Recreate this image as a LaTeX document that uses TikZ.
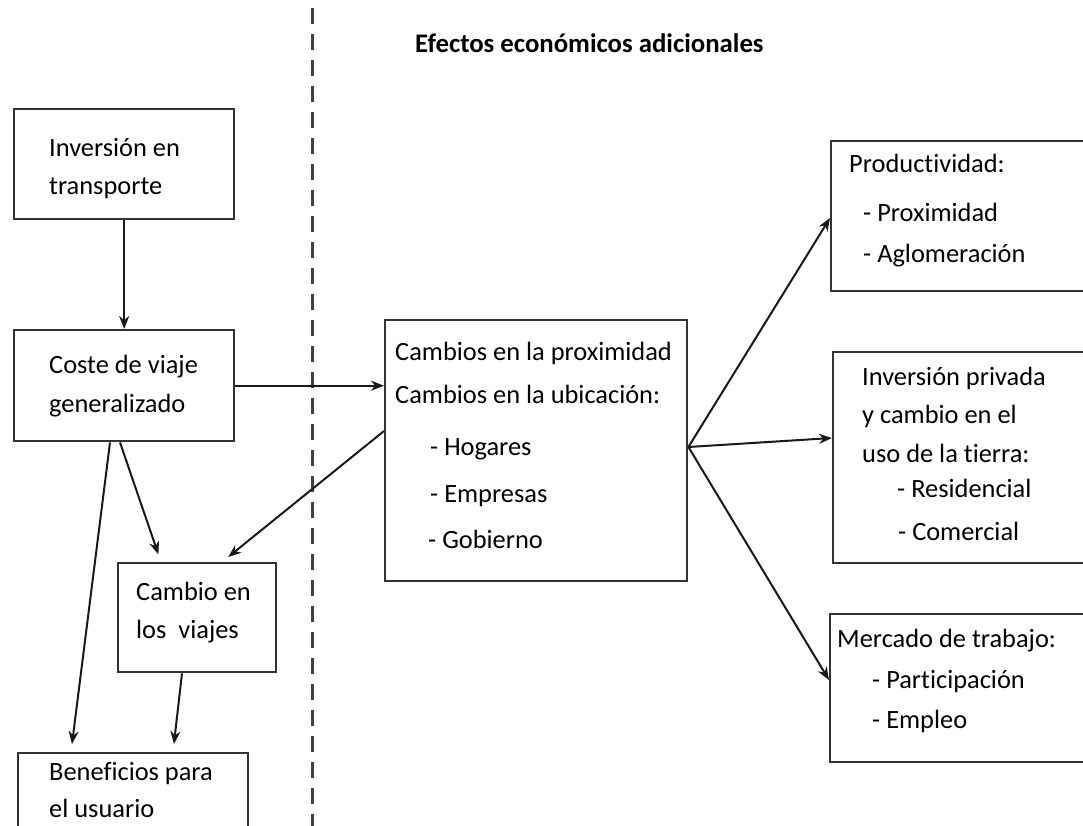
\documentclass[tikz,border=0pt]{standalone}
\usepackage{fontspec}
\setmainfont{Carlito}[Ligatures={NoCommon}]
\usetikzlibrary{arrows.meta,calc}
\tikzset{
  box/.style={draw=black!80, line width=2.4pt, anchor=north west, inner sep=0pt, fill=white},
  txt/.style={anchor=base west, inner sep=0pt, font=\fontsize{26.4}{30}\selectfont},
  ttl/.style={anchor=base west, inner sep=0pt, font=\bfseries\fontsize{26.8}{30}\selectfont},
  arr/.style={draw=black!90, line width=2pt, -{Stealth[length=13pt,width=10pt]}},
  gap/.style={shorten >=8pt},
  sep/.style={draw=black!75, line width=3pt, dash pattern=on 16pt off 10pt}
}
\begin{document}
\begin{tikzpicture}[x=1pt,y=-1pt]
\useasboundingbox (0,0) rectangle (1083,826);
\clip (0,0) rectangle (1083,826);
\fill[white] (0,0) rectangle (1083,826);
% separator
\coordinate (sepTop) at (312,8);
\coordinate (sepBot) at (312,830);
\draw[sep] (sepTop) -- (sepBot);
% title
\node[ttl] (title) at (415,53) {Efectos económicos adicionales};
% boxes
\node[box, minimum width=220pt, minimum height=110pt] (inv) at (13,108) {};
\node[box, minimum width=220pt, minimum height=111pt] (coste) at (13,329) {};
\node[box, minimum width=158pt, minimum height=109pt] (viajes) at (117,562) {};
\node[box, minimum width=230pt, minimum height=110pt] (benef) at (17,752) {};
\node[box, minimum width=302pt, minimum height=261pt] (central) at (384,319) {};
\node[box, minimum width=270pt, minimum height=150pt] (prod) at (830,140) {};
\node[box, minimum width=270pt, minimum height=211pt] (priv) at (832,351) {};
\node[box, minimum width=270pt, minimum height=148pt] (merc) at (829,613) {};
% texts
\node[txt] (a1) at (49,157) {Inversión en};
\node[txt] (a2) at (49,195) {transporte};
\node[txt] (b1) at (49,373) {Coste de viaje};
\node[txt] (b2) at (49,412) {generalizado};
\node[txt] (c1) at (136,600) {Cambio en};
\node[txt] (c2) at (136,638) {los\ \ viajes};
\node[txt] (d1) at (49,780) {Beneficios para};
\node[txt] (d2) at (49,817) {el usuario};
\node[txt] (e1) at (395,360) {Cambios en la proximidad};
\node[txt] (e2) at (395,403) {Cambios en la ubicación:};
\node[txt] (e3) at (430,455) {- Hogares};
\node[txt] (e4) at (430,502) {- Empresas};
\node[txt] (e5) at (428,548) {- Gobierno};
\node[txt] (f1) at (849,173) {Productividad:};
\node[txt] (f2) at (863,222) {- Proximidad};
\node[txt] (f3) at (863,262) {- Aglomeración};
\node[txt] (g1) at (862,385) {Inversión privada};
\node[txt] (g2) at (862,423) {y cambio en el};
\node[txt] (g3) at (862,462) {uso de la tierra:};
\node[txt] (g4) at (897,497) {- Residencial};
\node[txt] (g5) at (898,540) {- Comercial};
\node[txt] (h1) at (837,647) {Mercado de trabajo:};
\node[txt] (h2) at (872,688) {- Participación};
\node[txt] (h3) at (872,728) {- Empleo};
% connectors
\draw[arr] (inv.south) -- (coste.north);
\draw[arr] (coste.east) -- (coste.east -| central.west);
\draw[arr,gap] ([yshift=-112pt]central.north west) -- ([xshift=105pt]viajes.north west);
\draw[arr,gap] ([xshift=107pt]coste.south west) -- ([xshift=44pt]viajes.north west);
\draw[arr,gap] ([xshift=97pt]coste.south west) -- ([xshift=54pt]benef.north west);
\draw[arr,gap] ([xshift=65pt]viajes.south west) -- ([xshift=156pt]benef.north west);
\coordinate (fan) at ([yshift=-128pt]central.north east);
\draw[arr] (fan) -- ([yshift=-78pt]prod.north west);
\draw[arr] (fan) -- ([yshift=-87pt]priv.north west);
\draw[arr] (fan) -- ([yshift=-67pt]merc.north west);
\end{tikzpicture}
\end{document}
